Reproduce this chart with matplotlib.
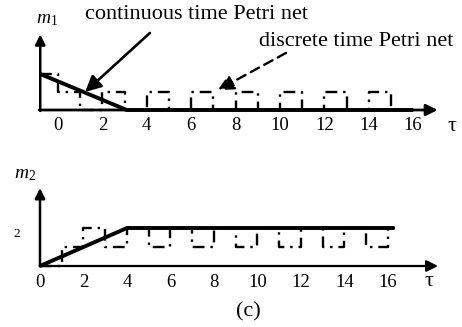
import matplotlib
matplotlib.use("Agg")
import matplotlib.pyplot as plt

plt.rcParams['font.family'] = ['Liberation Serif', 'DejaVu Serif']
plt.rcParams['mathtext.fontset'] = 'custom'
plt.rcParams['mathtext.it'] = 'Liberation Serif:italic'
plt.rcParams['mathtext.rm'] = 'Liberation Serif'

# ---- data ----
xticks = [0, 2, 4, 6, 8, 10, 12, 14, 16]
# m1: continuous time Petri net
m1_cont_t = [-0.8, 3.1, 16.0]
m1_cont_v = [2, 0, 0]
# m1: discrete time Petri net (step values)
m1_disc_t = [-0.8, 0, 1, 2, 3, 4, 5, 6, 7, 8, 9, 10, 11, 12, 13, 14, 15, 16]
m1_disc_v = [2, 1, 0, 1, 0, 1, 0, 1, 0, 1, 0, 1, 0, 1, 0, 1, 0, 0]
# m2: continuous time Petri net
m2_cont_t = [0, 4, 16.3]
m2_cont_v = [0, 2, 2]
# m2: discrete time Petri net (step values)
m2_disc_t = [0, 1, 2, 3, 4, 5, 6, 7, 8, 9, 10, 11, 12, 13, 14, 15, 16, 16.3]
m2_disc_v = [0, 1, 2, 1, 2, 1, 2, 1, 2, 1, 2, 1, 2, 1, 2, 1, 2, 2]

W, H = 462, 327
fig = plt.figure(figsize=(W / 100, H / 100), dpi=100)

dd = (0, (5, 2.5, 1, 2.5))

# ---------------- top panel ----------------
ax1 = fig.add_axes([0, 1 - 150 / H, 1, 150 / H])
ax1.set_xlim(-58 / 22.2, (W - 58) / 22.2)
ax1.set_ylim((110 - 150) / 18, 110 / 18)
for s in ['top', 'right', 'left']:
    ax1.spines[s].set_visible(False)
ax1.spines['bottom'].set_position(('data', 0))
ax1.spines['bottom'].set_visible(False)
ax1.set_yticks([])
ax1.set_xticks(xticks)
ax1.tick_params(axis='x', length=0, pad=5, labelsize=13.5)
ax1.patch.set_alpha(0)

# axes arrows
ax1.annotate('', xy=(17.1, 0), xytext=(-0.85, 0),
             arrowprops=dict(arrowstyle='-|>', color='black', lw=2.0,
                             mutation_scale=17, shrinkA=0, shrinkB=0))
ax1.annotate('', xy=(-0.8, 4.2), xytext=(-0.8, -0.05),
             arrowprops=dict(arrowstyle='-|>', color='black', lw=1.8,
                             mutation_scale=15, shrinkA=0, shrinkB=0))

ax1.plot(m1_disc_t, m1_disc_v, drawstyle='steps-post', color='black',
         lw=1.7, linestyle=dd)
ax1.plot(m1_cont_t, m1_cont_v, color='black', lw=2.8, solid_capstyle='butt')

ax1.text(-0.5, 5.05, r'$m_1$', fontsize=14, ha='center', va='center')
ax1.text(17.75, -0.9, 'τ', fontsize=16, ha='center', va='center')
ax1.text(1.22, 5.3, 'continuous time Petri net', fontsize=16,
         ha='left', va='center')
ax1.text(9.05, 3.78, 'discrete time Petri net', fontsize=16,
         ha='left', va='center')
ax1.annotate('', xy=(1.22, 1.0), xytext=(4.14, 4.28),
             arrowprops=dict(arrowstyle='-|>', color='black', lw=1.9,
                             mutation_scale=24, shrinkA=0, shrinkB=0))
ax1.annotate('', xy=(7.2, 1.11), xytext=(10.27, 3.17),
             arrowprops=dict(arrowstyle='-|>', color='black', lw=1.7,
                             linestyle=(0, (4, 2.5)),
                             mutation_scale=24, shrinkA=0, shrinkB=0))

# ---------------- bottom panel ----------------
ax2 = fig.add_axes([0, 0, 1, 167 / H])
ax2.set_xlim(-40 / 21.75, (W - 40) / 21.75)
ax2.set_ylim((266 - 327) / 19, (266 - 160) / 19)
for s in ['top', 'right', 'left', 'bottom']:
    ax2.spines[s].set_visible(False)
ax2.spines['bottom'].set_position(('data', 0))
ax2.spines['left'].set_position(('data', 0))
ax2.set_xticks(xticks)
ax2.set_yticks([2])
ax2.tick_params(axis='x', length=0, pad=6, labelsize=13.5)
ax2.tick_params(axis='y', length=0, pad=14, labelsize=9.5)
for lab in ax2.get_yticklabels():
    lab.set_va('top')
ax2.patch.set_alpha(0)

ax2.annotate('', xy=(18.3, 0), xytext=(-0.02, 0),
             arrowprops=dict(arrowstyle='-|>', color='black', lw=1.6,
                             mutation_scale=17, shrinkA=0, shrinkB=0))
ax2.annotate('', xy=(0, 4.1), xytext=(0, -0.02),
             arrowprops=dict(arrowstyle='-|>', color='black', lw=1.8,
                             mutation_scale=15, shrinkA=0, shrinkB=0))

ax2.plot(m2_disc_t, m2_disc_v, drawstyle='steps-post', color='black',
         lw=1.7, linestyle=dd)
ax2.plot(m2_cont_t, m2_cont_v, color='black', lw=2.8, solid_capstyle='butt')

ax2.text(-0.69, 4.79, r'$m_2$', fontsize=14, ha='center', va='center')
ax2.text(17.9, -0.84, 'τ', fontsize=16, ha='center', va='center')
ax2.text(9.6, -2.42, '(c)', fontsize=16, ha='center', va='center')

fig.savefig('out.png', dpi=100)
